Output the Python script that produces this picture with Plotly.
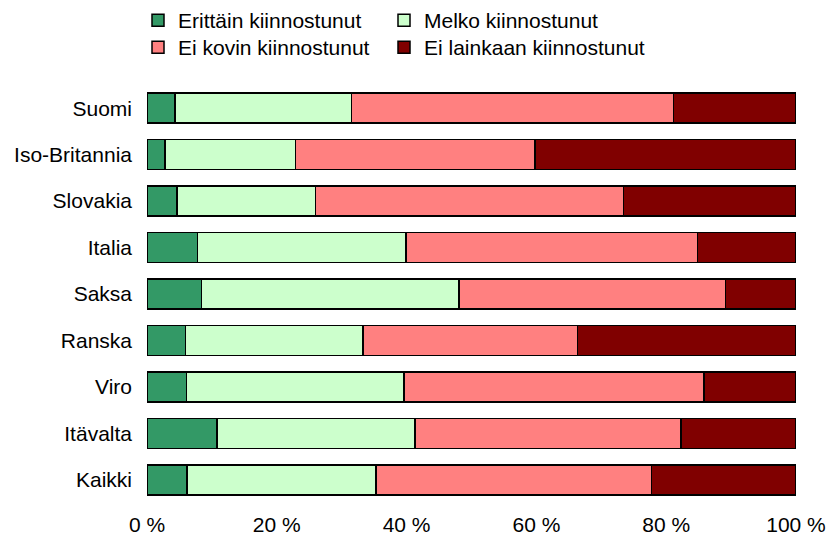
import plotly.graph_objects as go

categories = ["Suomi", "Iso-Britannia", "Slovakia", "Italia", "Saksa", "Ranska", "Viro", "Itävalta", "Kaikki"]
series_names = ["Erittäin kiinnostunut", "Melko kiinnostunut", "Ei kovin kiinnostunut", "Ei lainkaan kiinnostunut"]
erittain = [4.3, 2.8, 4.6, 7.8, 8.4, 5.9, 6.1, 10.8, 6.2]
melko = [27.2, 20.1, 21.4, 32.1, 39.7, 27.4, 33.5, 30.5, 29.1]
ei_kovin = [49.6, 36.9, 47.4, 44.9, 41.0, 33.0, 46.2, 41.0, 42.4]
ei_lainkaan = [18.9, 40.2, 26.6, 15.2, 10.9, 33.7, 14.2, 17.7, 22.3]
colors = ["#339966", "#CCFFCC", "#FF8080", "#800000"]
legend_ids = ["legend", "legend2", "legend3", "legend4"]
tick_vals = [0, 20, 40, 60, 80, 100]
tick_text = ["0 %", "20 %", "40 %", "60 %", "80 %", "100 %"]

font = "Liberation Sans, Arial, sans-serif"
fig = go.Figure()
for name, vals, col, lg in zip(series_names, [erittain, melko, ei_kovin, ei_lainkaan], colors, legend_ids):
    fig.add_trace(go.Bar(
        y=categories, x=vals, name=name, orientation="h",
        marker=dict(color=col, line=dict(color="black", width=1.5)),
        hoverinfo="skip", legend=lg,
    ))

W, H = 830, 544
ML, MR, MT, MB = 147, 34, 85, 41
plot_w = W - ML - MR


def legend_at(text_left_px, top_px):
    return dict(
        orientation="v", xanchor="left", xref="paper",
        x=(text_left_px - 40 - ML) / plot_w,
        y=1 - top_px / H, yanchor="top", yref="container",
        font=dict(size=21, family=font), itemclick=False,
        bgcolor="rgba(0,0,0,0)",
    )


fig.update_layout(
    barmode="stack",
    bargap=0.355,
    width=W, height=H,
    margin=dict(l=ML, r=MR, t=MT, b=MB),
    paper_bgcolor="white", plot_bgcolor="white",
    font=dict(family=font, size=21, color="black"),
    legend=legend_at(178, 0),
    legend2=legend_at(424, 0),
    legend3=legend_at(178, 27),
    legend4=legend_at(424, 27),
    showlegend=True,
)
fig.update_xaxes(
    range=[0, 100], tickvals=tick_vals, ticktext=tick_text,
    showgrid=False, zeroline=False, showline=False, automargin=False,
    ticklabelstandoff=7, tickfont=dict(size=21),
)
fig.update_yaxes(
    categoryorder="array", categoryarray=categories, autorange="reversed",
    showgrid=False, zeroline=False, showline=False, automargin=False,
    ticklabelstandoff=14, tickfont=dict(size=21),
)
fig.write_html(
    "out.html",
    config={"displayModeBar": False},
    post_script="document.body.style.margin='0px';document.body.style.overflow='hidden';",
)
